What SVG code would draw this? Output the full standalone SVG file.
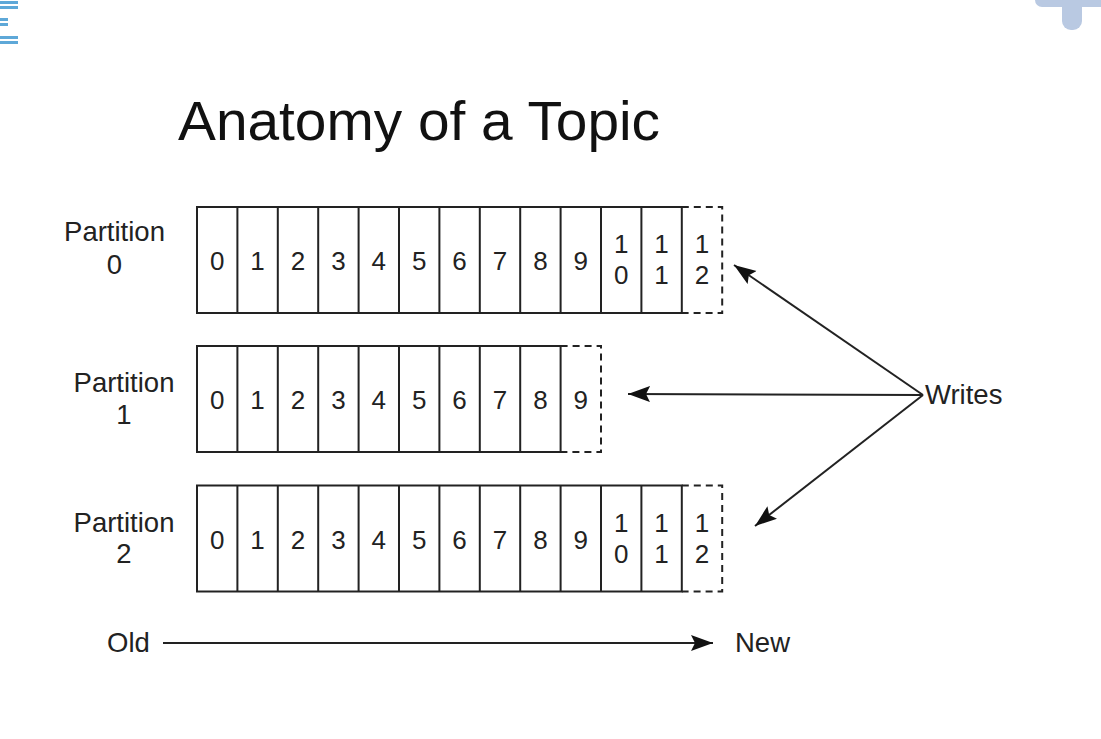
<svg xmlns="http://www.w3.org/2000/svg" width="1101" height="739" viewBox="0 0 1101 739">
  <style>
    .cell { fill: none; stroke: #222; stroke-width: 2; }
    .dash { fill: none; stroke: #222; stroke-width: 2; stroke-dasharray: 7 5; }
    .num { font-family: "Liberation Sans", Arial, sans-serif; font-size: 26px; fill: #222; text-anchor: middle; }
    .lbl { font-family: "Liberation Sans", Arial, sans-serif; font-size: 27.5px; fill: #222; text-anchor: middle; }
    .title { font-family: "Liberation Sans", Arial, sans-serif; font-size: 56px; fill: #111; }
    .conn { fill: none; stroke: #222; stroke-width: 2; }
  </style>
  <defs>
    <marker id="arr" markerUnits="userSpaceOnUse" markerWidth="24" markerHeight="18" refX="22" refY="8" orient="auto">
      <path d="M0,0 L22,8 L0,16 L4,8 z" fill="#111"/>
    </marker>
  </defs>
  <rect width="1101" height="739" fill="#ffffff"/>

  <g id="ui-icons">
    <rect x="0" y="1" width="18" height="3" fill="#5ea8d8"/>
    <rect x="0" y="6" width="18" height="3" fill="#5ea8d8"/>
    <rect x="0" y="18" width="8" height="3" fill="#5ea8d8"/>
    <rect x="0" y="23" width="8" height="3" fill="#5ea8d8"/>
    <rect x="0" y="36" width="18" height="3" fill="#5ea8d8"/>
    <rect x="0" y="41" width="18" height="3" fill="#5ea8d8"/>
    <rect x="1035" y="-8" width="75" height="15" rx="7" fill="#b9c9e2"/>
    <rect x="1062" y="-8" width="20" height="38" rx="9" fill="#b9c9e2"/>
  </g>

  <g id="title">
    <text class="title" x="178" y="140" textLength="482" lengthAdjust="spacingAndGlyphs">Anatomy of a Topic</text>
  </g>

  <g id="partition0">
    <text class="lbl" x="114.5" y="241">Partition</text>
    <text class="lbl" x="114.5" y="274">0</text>
    <rect class="cell" x="197" y="207" width="484.8" height="106"/>
    <path class="cell" d="M237.4,207V313M277.8,207V313M318.2,207V313M358.6,207V313M399,207V313M439.4,207V313M479.8,207V313M520.2,207V313M560.6,207V313M601,207V313M641.4,207V313"/>
    <path class="dash" d="M681.8,207H722.2V313H681.8"/>
    <text class="num" x="217.2" y="270">0</text>
    <text class="num" x="257.6" y="270">1</text>
    <text class="num" x="298" y="270">2</text>
    <text class="num" x="338.4" y="270">3</text>
    <text class="num" x="378.8" y="270">4</text>
    <text class="num" x="419.2" y="270">5</text>
    <text class="num" x="459.6" y="270">6</text>
    <text class="num" x="500" y="270">7</text>
    <text class="num" x="540.4" y="270">8</text>
    <text class="num" x="580.8" y="270">9</text>
    <text class="num" x="621.2" y="253">1</text>
    <text class="num" x="621.2" y="284">0</text>
    <text class="num" x="661.6" y="253">1</text>
    <text class="num" x="661.6" y="284">1</text>
    <text class="num" x="702" y="253">1</text>
    <text class="num" x="702" y="284">2</text>
  </g>

  <g id="partition1">
    <text class="lbl" x="124" y="392">Partition</text>
    <text class="lbl" x="124" y="424">1</text>
    <rect class="cell" x="197" y="346" width="363.6" height="106"/>
    <path class="cell" d="M237.4,346V452M277.8,346V452M318.2,346V452M358.6,346V452M399,346V452M439.4,346V452M479.8,346V452M520.2,346V452"/>
    <path class="dash" d="M560.6,346H601V452H560.6"/>
    <text class="num" x="217.2" y="409">0</text>
    <text class="num" x="257.6" y="409">1</text>
    <text class="num" x="298" y="409">2</text>
    <text class="num" x="338.4" y="409">3</text>
    <text class="num" x="378.8" y="409">4</text>
    <text class="num" x="419.2" y="409">5</text>
    <text class="num" x="459.6" y="409">6</text>
    <text class="num" x="500" y="409">7</text>
    <text class="num" x="540.4" y="409">8</text>
    <text class="num" x="580.8" y="409">9</text>
  </g>

  <g id="partition2">
    <text class="lbl" x="124" y="532">Partition</text>
    <text class="lbl" x="124" y="563">2</text>
    <rect class="cell" x="197" y="485.5" width="484.8" height="106"/>
    <path class="cell" d="M237.4,485.5V591.5M277.8,485.5V591.5M318.2,485.5V591.5M358.6,485.5V591.5M399,485.5V591.5M439.4,485.5V591.5M479.8,485.5V591.5M520.2,485.5V591.5M560.6,485.5V591.5M601,485.5V591.5M641.4,485.5V591.5"/>
    <path class="dash" d="M681.8,485.5H722.2V591.5H681.8"/>
    <text class="num" x="217.2" y="548.5">0</text>
    <text class="num" x="257.6" y="548.5">1</text>
    <text class="num" x="298" y="548.5">2</text>
    <text class="num" x="338.4" y="548.5">3</text>
    <text class="num" x="378.8" y="548.5">4</text>
    <text class="num" x="419.2" y="548.5">5</text>
    <text class="num" x="459.6" y="548.5">6</text>
    <text class="num" x="500" y="548.5">7</text>
    <text class="num" x="540.4" y="548.5">8</text>
    <text class="num" x="580.8" y="548.5">9</text>
    <text class="num" x="621.2" y="532">1</text>
    <text class="num" x="621.2" y="563">0</text>
    <text class="num" x="661.6" y="532">1</text>
    <text class="num" x="661.6" y="563">1</text>
    <text class="num" x="702" y="532">1</text>
    <text class="num" x="702" y="563">2</text>
  </g>

  <g id="writes">
    <text class="lbl" x="925" y="404" style="text-anchor:start">Writes</text>
  </g>

  <g id="old">
    <text class="lbl" x="128.5" y="652">Old</text>
  </g>
  <g id="new">
    <text class="lbl" x="762.5" y="652">New</text>
  </g>

  <g id="connectors">
    <line class="conn" x1="923" y1="395" x2="734" y2="265" marker-end="url(#arr)"/>
    <line class="conn" x1="923" y1="395" x2="628" y2="394" marker-end="url(#arr)"/>
    <line class="conn" x1="923" y1="395" x2="755" y2="526" marker-end="url(#arr)"/>
    <line class="conn" x1="163" y1="643" x2="713" y2="643" marker-end="url(#arr)"/>
  </g>
</svg>
